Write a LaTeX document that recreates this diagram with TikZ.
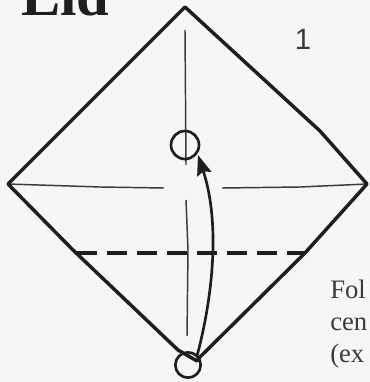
\documentclass[tikz,border=0pt]{standalone}
\usepackage{fontspec}
\setmainfont{Liberation Serif}
\newfontfamily\numfont{Liberation Sans}
\usetikzlibrary{arrows.meta,calc,positioning}
\definecolor{ink}{HTML}{1E1E1E}
\definecolor{muted}{HTML}{3A3A3A}
\definecolor{paper}{HTML}{F6F6F4}
\tikzset{
 edge/.style={draw=ink,line width=2.6pt,line join=round},
 crease/.style={draw=muted,line width=1.1pt},
 valley/.style={draw=ink,line width=2.5pt,dash pattern=on 15pt off 7.5pt},
 ring/.style={draw=ink,line width=2pt,circle,inner sep=0pt},
 foldarrow/.style={-{Stealth[length=15pt,width=11pt,inset=2pt]},draw=ink,line width=2pt},
 title/.style={font=\fontsize{44}{44}\selectfont\bfseries,text=ink,inner sep=0pt,anchor=base west},
 stepnum/.style={font=\numfont\fontsize{22}{22}\selectfont,text=muted,inner sep=0pt},
 word/.style={font=\fontsize{20}{20}\selectfont,text=muted,inner sep=0pt,anchor=base west},
}
\begin{document}
\begin{tikzpicture}[x=.75pt,y=-.75pt]
\useasboundingbox (0,0) rectangle (370,382);
\clip (0,0) rectangle (370,382);
\fill[paper] (0,0) rectangle (370,382);

\coordinate (top) at (185,7);
\coordinate (left) at (8,184);
\coordinate (right) at (367,184);
\coordinate (bottom) at (197,361);
\coordinate (creasetop) at (185,30);
\coordinate (creaseupper) at (186,165);
\coordinate (creaselower) at (186,200);
\coordinate (creasebottom) at (187,336);
\coordinate (leftend) at (164,188);
\coordinate (rightstart) at (222,188);
\coordinate (dashleft) at (77,253);
\coordinate (dashright) at (305,253);

\node[title] (lid) at (21,15) {Lid};
\node[stepnum] (num) at (303,39) {1};
\node[word] (line1) at (330,298) {Fol};
\node[word] (line2) at (330,330) {cen};
\node[word] (line3) at (330,362) {(ex};

\draw[crease] (creasetop) -- (creaseupper);
\draw[crease] (creaselower) -- (188,250) -- (creasebottom);
\draw[crease] (left) -- (100,187) -- (leftend);
\draw[crease] (rightstart) -- (300,187) -- (right);
\draw[edge] (top) -- (320,131) -- (right) -- (dashright) -- (200,357) -- (bottom) -- (178,350) -- (73,250) -- (left) -- cycle;
\draw[valley] (dashleft) -- (dashright);

\node[ring,minimum size=21pt] (target) at (185,145) {};
\node[ring,minimum size=19pt] (start) at (188,365) {};
\draw[foldarrow] (197,356) .. controls (212,300) and (221,225) .. (198,155);
\end{tikzpicture}
\end{document}
